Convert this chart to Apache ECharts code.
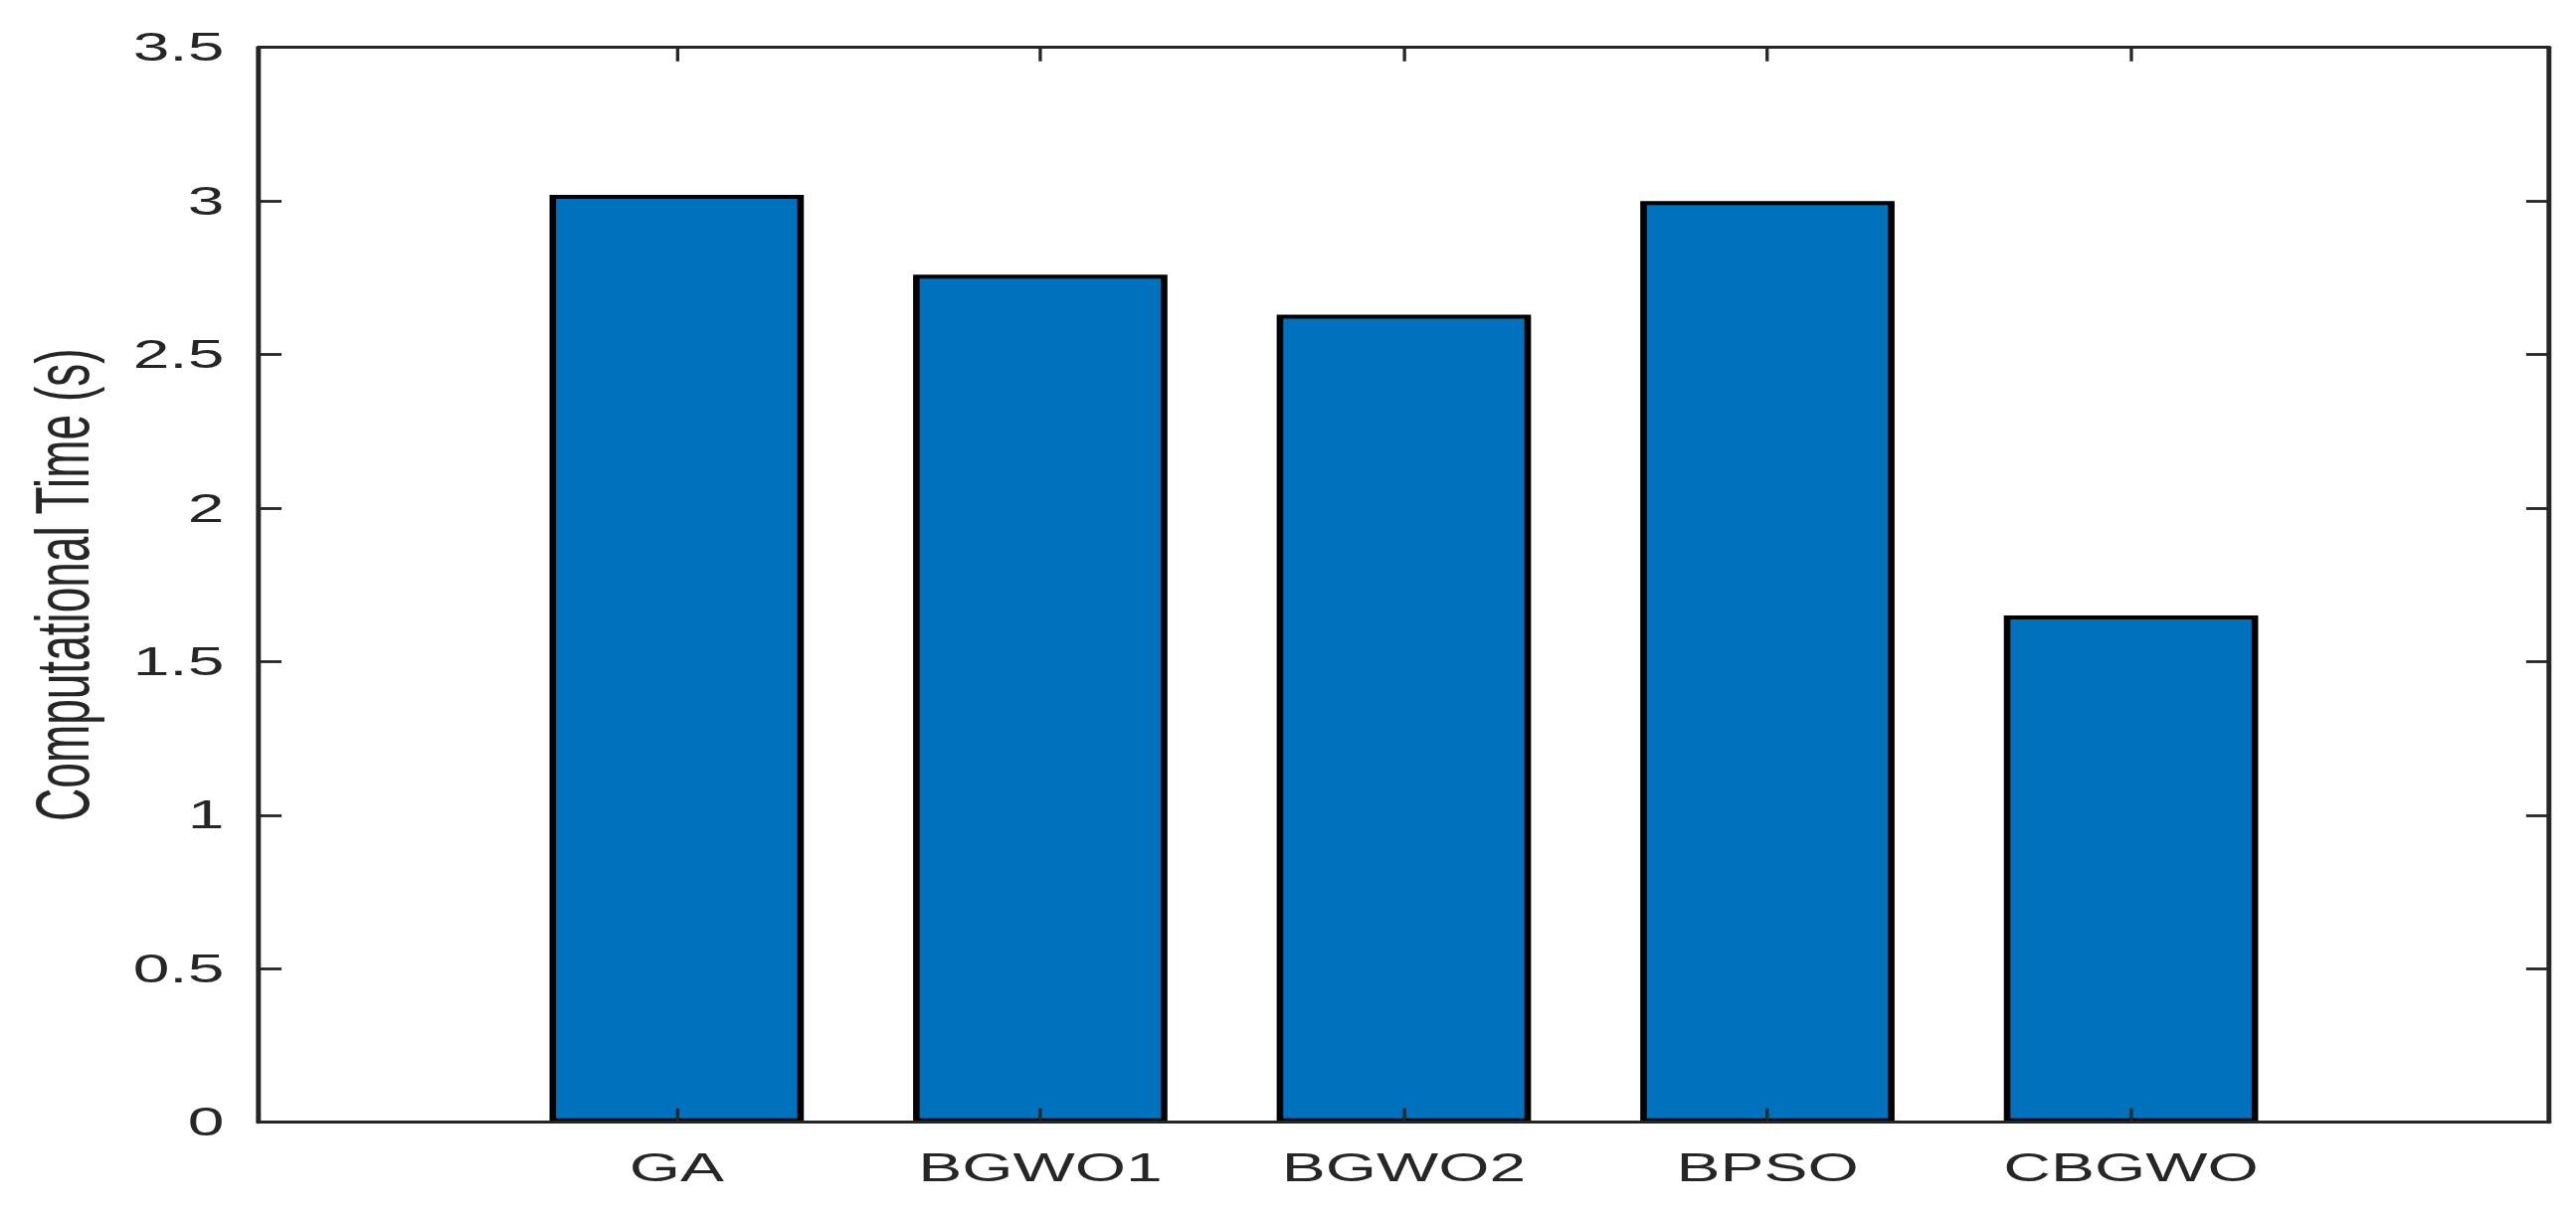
<!DOCTYPE html>
<html>
<head>
<meta charset="utf-8">
<script src="https://cdn.jsdelivr.net/npm/echarts@6/dist/echarts.min.js"></script>
<style>
  html, body { margin: 0; padding: 0; background: #fff; overflow: hidden; }
  #wrap { width: 2590px; height: 1223px; overflow: hidden; }
  #chart { width: 1570px; height: 1223px; transform: scaleX(1.6497); transform-origin: 0 0; }
</style>
</head>
<body>
<div id="wrap"><div id="chart"></div></div>
<script>
const categories = ['GA', 'BGWO1', 'BGWO2', 'BPSO', 'CBGWO'];
const times = [3.02, 2.76, 2.63, 3.00, 1.65];
const yTicks = [0, 0.5, 1, 1.5, 2, 2.5, 3, 3.5];
const yLabel = 'Computational Time (s)';

const positions = categories.map((c, i) => i + 1);
const barData = positions.map((p, i) => [p, times[i]]);

const axisColor = '#262626';
const font = '"Liberation Sans", Arial, Helvetica, sans-serif';

const chart = echarts.init(document.getElementById('chart'), null, { renderer: 'svg' });
chart.setOption({
  backgroundColor: '#ffffff',
  animation: false,
  grid: { left: 157.6, right: 16.4, top: 47.7, bottom: 94.3, containLabel: false },
  xAxis: [
    {
      type: 'value', position: 'bottom', min: -0.15, max: 6.15, z: 5,
      axisLine: { show: true, onZero: false, lineStyle: { color: axisColor, width: 3 } },
      axisTick: { show: true, inside: true, length: 14, customValues: positions, lineStyle: { color: axisColor, width: 2 } },
      axisLabel: { show: true, customValues: positions, margin: 26, color: axisColor, fontSize: 40, fontFamily: font,
        formatter: v => categories[Math.round(v) - 1] || '' },
      splitLine: { show: false }
    },
    {
      type: 'value', position: 'top', min: -0.15, max: 6.15, z: 5,
      axisLine: { show: true, onZero: false, lineStyle: { color: axisColor, width: 3 } },
      axisTick: { show: true, inside: true, length: 14, customValues: positions, lineStyle: { color: axisColor, width: 2 } },
      axisLabel: { show: false },
      splitLine: { show: false }
    }
  ],
  yAxis: [
    {
      type: 'value', position: 'left', min: yTicks[0], max: yTicks[yTicks.length - 1], interval: 0.5, z: 5,
      name: yLabel, nameLocation: 'middle', nameRotate: 90, nameGap: 97,
      nameTextStyle: { color: axisColor, fontSize: 46, fontFamily: font },
      axisLine: { show: true, onZero: false, lineStyle: { color: axisColor, width: 3 } },
      axisTick: { show: true, inside: true, length: 14, lineStyle: { color: axisColor, width: 2.8 } },
      axisLabel: { show: true, margin: 21, color: axisColor, fontSize: 40, fontFamily: font },
      splitLine: { show: false }
    },
    {
      type: 'value', position: 'right', min: yTicks[0], max: yTicks[yTicks.length - 1], interval: 0.5, z: 5,
      axisLine: { show: true, onZero: false, lineStyle: { color: axisColor, width: 3 } },
      axisTick: { show: true, inside: true, length: 14, lineStyle: { color: axisColor, width: 2.8 } },
      axisLabel: { show: false },
      splitLine: { show: false }
    }
  ],
  series: [{
    type: 'bar',
    xAxisIndex: 0, yAxisIndex: 0,
    data: barData,
    barWidth: 155,
    itemStyle: { color: '#0072BD', borderColor: '#000000', borderWidth: 4 },
    z: 2
  }]
});
</script>
</body>
</html>
